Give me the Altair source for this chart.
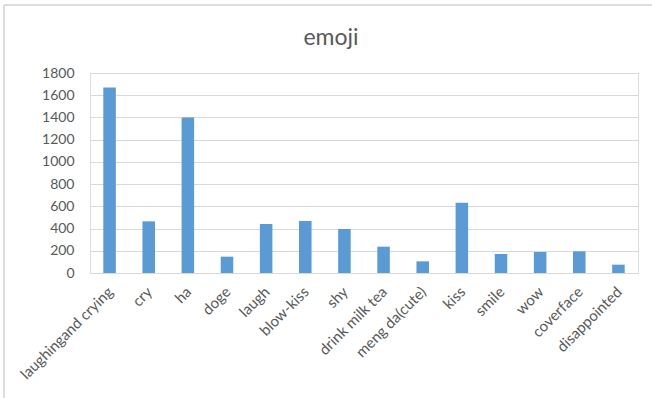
import altair as alt
import pandas as pd

title_text = "emoji"
categories = ["laughingand crying", "cry", "ha", "doge", "laugh", "blow-kiss", "shy",
              "drink milk tea", "meng da(cute)", "kiss", "smile", "wow", "coverface", "disappointed"]
values = [1670, 465, 1400, 147, 441, 468, 396, 237, 105, 633, 171, 189, 195, 75]
y_ticks = [0, 200, 400, 600, 800, 1000, 1200, 1400, 1600, 1800]

df = pd.DataFrame({"emoji": categories, "count": values})
tdf = pd.DataFrame({"t": [title_text]})

FONT = "Lato"
GRAY = "#595959"
BORDER = "#DDDDDD"

bars = alt.Chart(df).mark_bar(color="#5B9BD5").encode(
    x=alt.X("emoji:N", sort=categories,
            scale=alt.Scale(paddingInner=0.68, paddingOuter=0.34),
            axis=alt.Axis(title=None, labelAngle=-45, labelFontSize=15, labelColor=GRAY,
                          labelFont=FONT, ticks=False, domain=True, domainColor="#D9D9D9",
                          labelPadding=11, labelOffset=-4, labelLimit=300)),
    y=alt.Y("count:Q", scale=alt.Scale(domain=[0, 1800], nice=False),
            axis=alt.Axis(title=None, values=y_ticks, format="d", labelFontSize=14,
                          labelColor=GRAY, labelFont=FONT, ticks=False, domain=False,
                          gridColor="#D9D9D9", labelPadding=16)),
)

top_border = alt.Chart(tdf).mark_rule(color=BORDER, strokeWidth=2).encode(
    x=alt.value(-86), x2=alt.value(570), y=alt.value(-68))
left_border = alt.Chart(tdf).mark_rule(color=BORDER, strokeWidth=2).encode(
    x=alt.value(-86), y=alt.value(-68), y2=alt.value(330))

title = alt.Chart(tdf).mark_text(font=FONT, fontSize=23, color=GRAY, align="center",
                                 baseline="alphabetic").encode(
    text="t:N", x=alt.value(241), y=alt.value(-28))

chart = alt.layer(bars, top_border, left_border, title).properties(
    width=548, height=200,
    autosize=alt.AutoSizeParams(type="none"),
    padding={"left": 90, "top": 73, "right": 14, "bottom": 125},
).configure_view(stroke=None).configure(background="white")

chart.save("out.html", embed_options={"renderer": "svg", "actions": False})
